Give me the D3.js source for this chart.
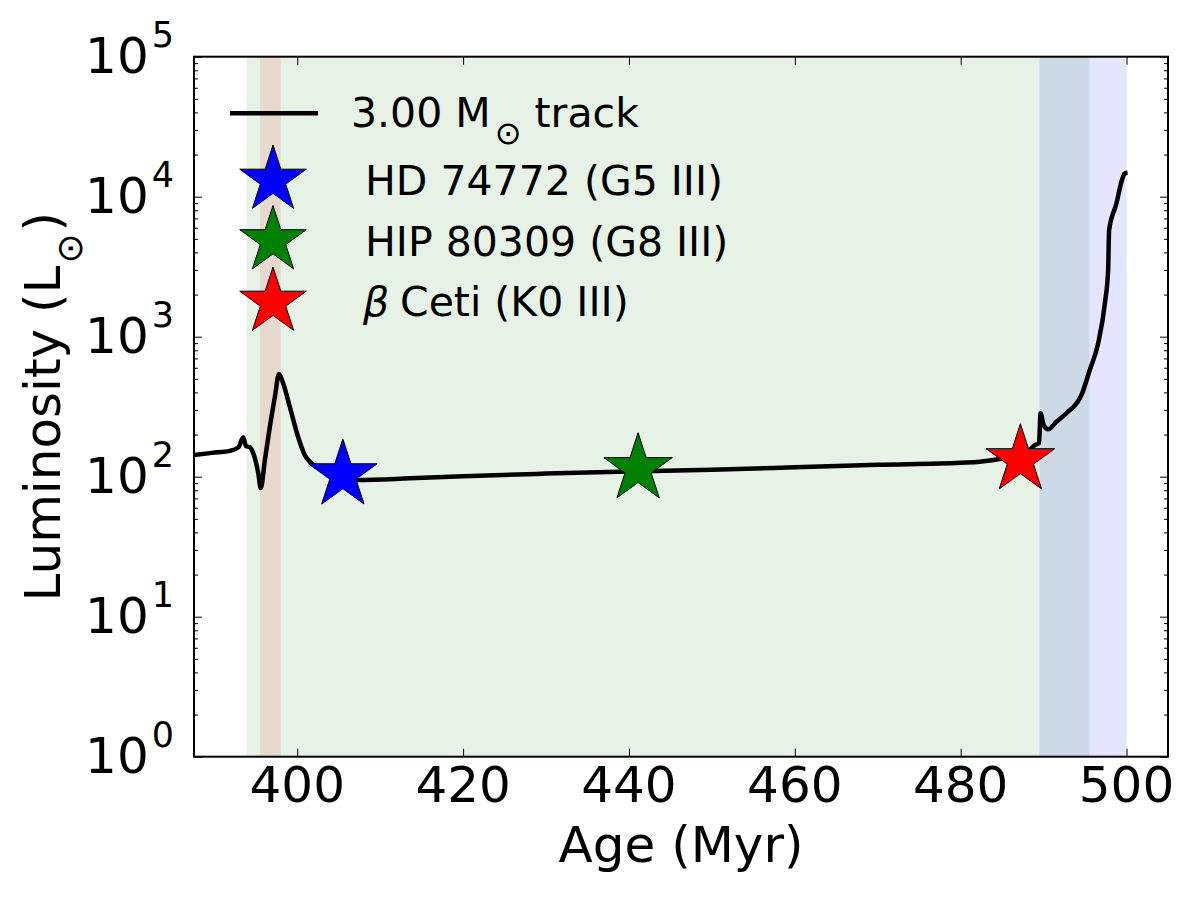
<!DOCTYPE html>
<html>
<head>
<meta charset="utf-8">
<script src="https://cdn.jsdelivr.net/npm/d3@7"></script>
<style>
  body { margin: 0; background: #fff; }
  svg { font-family: "DejaVu Sans", sans-serif; }
</style>
</head>
<body>
<div id="chart"></div>
<script>
const width = 1200;
const height = 900;
const plot = {left: 194, right: 1168, top: 56.7, bottom: 756.7};

// 3.00 Msun track (age in Myr, luminosity in Lsun)
const trackAge = [387.55, 389.7, 391.9, 392.9, 393.5, 393.8, 394.3, 394.9, 395.3, 395.6,
  396.1, 396.7, 397.3, 397.8, 398.3, 399.1, 400.1, 400.9, 401.7, 403.0,
  404.5, 406.0, 407.2, 413.6, 420, 430, 440, 450, 460, 470,
  480, 482.3, 485.1, 487.0, 488.3, 488.95, 489.45, 489.63, 490.0, 490.55,
  491.55, 492.75, 494.57, 495.57, 496.58, 497.39, 497.78, 497.90, 498.79, 499.39,
  499.79, 500.12];
const trackLum = [143, 148, 153, 162, 191, 166, 162, 135, 106, 83,
  132, 228, 372, 542, 465, 316, 193, 143, 125, 111,
  100, 95.5, 94.6, 97.3, 100.9, 105.2, 108.9, 112.2, 116.7, 121.6,
  125.9, 127.9, 134.9, 141, 155, 168, 174, 284, 234, 218,
  247, 284, 384, 578, 897, 1734, 2992, 5781, 8974, 12790,
  14690, 14830];

const starNames = ["HD 74772 (G5 III)", "HIP 80309 (G8 III)", "Ceti (K0 III)"];
const starAge = [405.5, 441.1, 487.2];
const starLum = [103, 114, 132];
const starColors = ["#0000ff", "#008000", "#ff0000"];

// shaded evolutionary phases
const phaseStart = [393.9, 395.5, 489.5];
const phaseEnd = [495.5, 398.0, 500.0];
const phaseColors = ["#008000", "#ff0000", "#0000ff"];

const ageTicks = [400, 420, 440, 460, 480, 500];
const lumExponents = [0, 1, 2, 3, 4, 5];

let svg = d3.select("#chart")
            .append("svg")
            .attr("width", width)
            .attr("height", height);

const x = d3.scaleLinear().domain([387.55, 505]).range([plot.left, plot.right]);
const y = d3.scaleLog().domain([1, 1e5]).range([plot.bottom, plot.top]);

svg.append("clipPath").attr("id", "clip")
   .append("rect")
   .attr("x", plot.left).attr("y", plot.top)
   .attr("width", plot.right - plot.left)
   .attr("height", plot.bottom - plot.top);

// phase bands
svg.selectAll(".phase")
   .data(phaseStart)
   .enter()
   .append("rect")
   .attr("class", "phase")
   .attr("x", (d) => x(d))
   .attr("width", (d, i) => x(phaseEnd[i]) - x(d))
   .attr("y", plot.top)
   .attr("height", plot.bottom - plot.top)
   .attr("fill", (d, i) => phaseColors[i])
   .attr("fill-opacity", 0.1);

// track
const line = d3.line()
               .x((d, i) => x(trackAge[i]))
               .y((d) => y(d))
               .curve(d3.curveMonotoneX);

svg.append("path")
   .datum(trackLum)
   .attr("clip-path", "url(#clip)")
   .attr("d", line)
   .attr("fill", "none")
   .attr("stroke", "#000")
   .attr("stroke-width", 4.5)
   .attr("stroke-linejoin", "round");

// stars (outer radius ~36px)
const star = d3.symbol().type(d3.symbolStar).size(1455);
svg.selectAll(".star")
   .data(starAge)
   .enter()
   .append("path")
   .attr("class", "star")
   .attr("d", star)
   .attr("transform", (d, i) => `translate(${x(d)},${y(starLum[i])})`)
   .attr("fill", (d, i) => starColors[i])
   .attr("stroke", "#000")
   .attr("stroke-width", 1);

// axes, ticks inward on all four sides
function styleAxis(g) {
  g.select(".domain").remove();
  g.selectAll(".tick line").attr("stroke", "#000").attr("stroke-width", 1);
  g.selectAll("text").remove();
}

const yMinor = [];
for (let e = 0; e < 5; e++) {
  for (let m = 2; m < 10; m++) yMinor.push(m * Math.pow(10, e));
}
const yMajor = lumExponents.map(e => Math.pow(10, e));

svg.append("g").attr("transform", `translate(0,${plot.bottom})`)
   .call(d3.axisBottom(x).tickValues(ageTicks).tickSize(-8)).call(styleAxis);
svg.append("g").attr("transform", `translate(0,${plot.top})`)
   .call(d3.axisTop(x).tickValues(ageTicks).tickSize(-8)).call(styleAxis);
svg.append("g").attr("transform", `translate(${plot.left},0)`)
   .call(d3.axisLeft(y).tickValues(yMajor).tickSize(-8)).call(styleAxis);
svg.append("g").attr("transform", `translate(${plot.left},0)`)
   .call(d3.axisLeft(y).tickValues(yMinor).tickSize(-4)).call(styleAxis);
svg.append("g").attr("transform", `translate(${plot.right},0)`)
   .call(d3.axisRight(y).tickValues(yMajor).tickSize(-8)).call(styleAxis);
svg.append("g").attr("transform", `translate(${plot.right},0)`)
   .call(d3.axisRight(y).tickValues(yMinor).tickSize(-4)).call(styleAxis);

// tick labels
svg.selectAll(".xlabel")
   .data(ageTicks)
   .enter()
   .append("text")
   .attr("x", (d) => x(d))
   .attr("y", 802)
   .attr("text-anchor", "middle")
   .attr("font-size", 50)
   .text((d) => d);

let ylab = svg.selectAll(".ylabel")
   .data(lumExponents)
   .enter()
   .append("text")
   .attr("x", 174)
   .attr("y", (d) => y(Math.pow(10, d)) + 16.5)
   .attr("text-anchor", "end")
   .attr("font-size", 50);
ylab.append("tspan").text("10");
ylab.append("tspan").attr("dx", 3).attr("dy", -26).attr("font-size", 35).text((d) => d);

// frame
svg.append("rect")
   .attr("x", plot.left).attr("y", plot.top)
   .attr("width", plot.right - plot.left)
   .attr("height", plot.bottom - plot.top)
   .attr("fill", "none")
   .attr("stroke", "#000")
   .attr("stroke-width", 2);

// axis titles
svg.append("text")
   .attr("x", (plot.left + plot.right) / 2)
   .attr("y", 862)
   .attr("text-anchor", "middle")
   .attr("font-size", 50)
   .text("Age (Myr)");

let yTitle = svg.append("text")
   .attr("transform", `translate(60,${(plot.top + plot.bottom) / 2}) rotate(-90)`)
   .attr("text-anchor", "middle")
   .attr("font-size", 50);
yTitle.append("tspan").text("Luminosity (L");
yTitle.append("tspan").attr("dx", 2).attr("dy", 22).attr("font-size", 36).text("\u2299");
yTitle.append("tspan").attr("dx", 2).attr("dy", -22).text(")");

// legend
const legend = svg.append("g");
legend.append("line")
      .attr("x1", 230).attr("x2", 318)
      .attr("y1", 113.3).attr("y2", 113.3)
      .attr("stroke", "#000").attr("stroke-width", 4.5);

let trackText = legend.append("text")
      .attr("x", 351).attr("y", 126.7)
      .attr("font-size", 41);
trackText.append("tspan").text("3.00 M");
trackText.append("tspan").attr("dx", 4).attr("dy", 17).attr("font-size", 32).text("\u2299");
trackText.append("tspan").attr("dy", -17).text(" track");

const legendRowY = [180, 240.5, 302];
const legendStar = d3.symbol().type(d3.symbolStar).size(1375);
legend.selectAll(".lstar")
      .data(starNames)
      .enter()
      .append("path")
      .attr("d", legendStar)
      .attr("transform", (d, i) => `translate(273,${legendRowY[i]})`)
      .attr("fill", (d, i) => starColors[i])
      .attr("stroke", "#000")
      .attr("stroke-width", 1);

legend.selectAll(".ltext")
      .data(starNames.slice(0, 2))
      .enter()
      .append("text")
      .attr("x", 365)
      .attr("y", (d, i) => legendRowY[i] + 15)
      .attr("font-size", 41)
      .text((d) => d);

let betaText = legend.append("text")
      .attr("y", legendRowY[2] + 14)
      .attr("font-size", 41);
betaText.append("tspan").attr("x", 363).attr("font-style", "italic").text("\u03b2");
betaText.append("tspan").attr("x", 400).text(starNames[2]);
</script>
</body>
</html>
